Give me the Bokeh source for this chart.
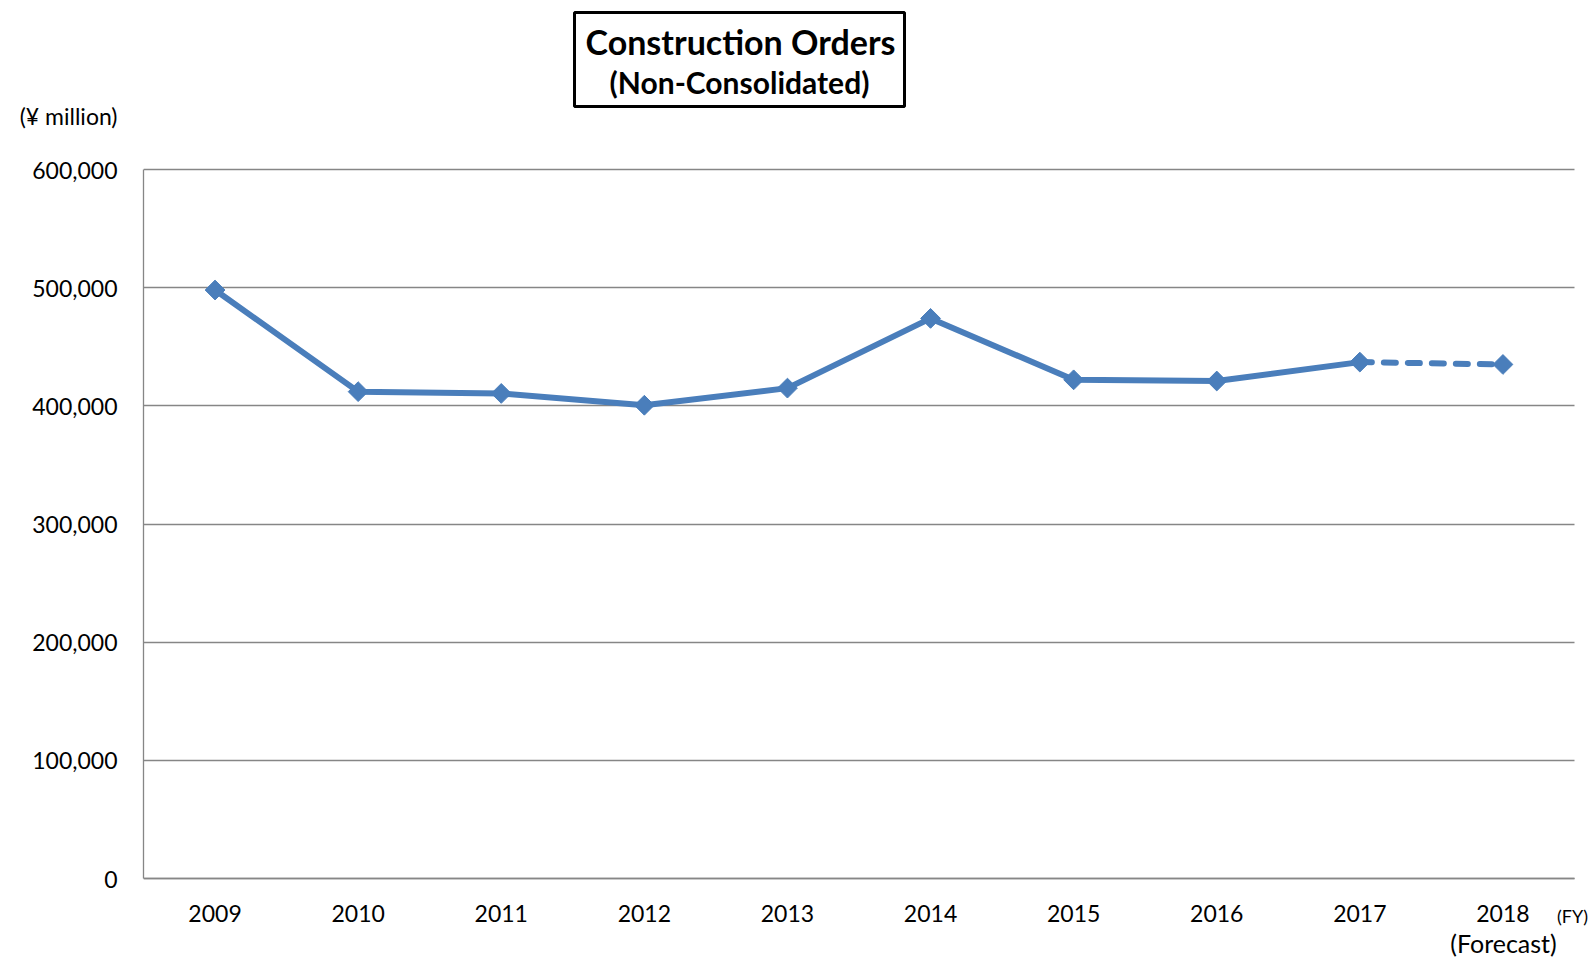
import numpy as np
from bokeh.plotting import figure
from bokeh.models import Range1d, Label, BoxAnnotation, NumeralTickFormatter, FixedTicker, ColumnDataSource
from bokeh.embed import file_html
from bokeh.resources import INLINE

# ---- data ----
years = ["2009", "2010", "2011", "2012", "2013", "2014", "2015", "2016", "2017", "2018"]
orders = [498000, 412000, 410500, 400500, 415000, 474000, 422000, 421000, 437000, 435000]
y_ticks = [0, 100000, 200000, 300000, 400000, 500000, 600000]
unit_label = "(¥ million)"
fy_label = "(FY)"
forecast_label = "(Forecast)"

# ---- layout (pixels on the canvas) ----
W, H = 1592, 958
FRAME_LEFT = 143
AX_LEFT, AX_RIGHT = 143, 1574      # x extent of the plotting area
AX_BOTTOM, AX_TOP = 878, 169       # y of value 0 and of the top value
n = len(years)
y_max = y_ticks[-1]
px_x = (AX_RIGHT - AX_LEFT) / n
px_y = (AX_BOTTOM - AX_TOP) / y_max
x_end = (W - FRAME_LEFT) / px_x
y_start = -(H - AX_BOTTOM) / px_y
y_end = y_max + AX_TOP / px_y
unit_tick = y_max + (AX_TOP - 115) / px_y

def sx(cx):
    return cx - FRAME_LEFT

def sy(cy):
    return H - cy

BLUE = "#4A7EBB"
GRAY = "#868686"
FONT = "Lato"

centers = list(np.arange(n) + 0.5)

p = figure(x_range=Range1d(0, x_end), y_range=Range1d(y_start, y_end),
           width=W, height=H, output_backend="svg", toolbar_location=None,
           min_border_left=FRAME_LEFT, min_border_right=0, min_border_top=0, min_border_bottom=0)

actual = ColumnDataSource(dict(x=centers[:n - 1], y=orders[:n - 1]))
forecast = ColumnDataSource(dict(x=centers[n - 2:], y=orders[n - 2:]))

p.line("x", "y", source=forecast, line_color=BLUE, line_width=6, line_dash="12 12", line_cap="round")
p.line("x", "y", source=actual, line_color=BLUE, line_width=6, line_join="round")
p.scatter(x=centers, y=orders, marker="square", angle=np.pi / 4, size=14,
          fill_color=BLUE, line_color=BLUE)

p.outline_line_color = None
p.background_fill_color = None
p.xgrid.grid_line_color = None
p.ygrid.ticker = FixedTicker(ticks=y_ticks)
p.ygrid.cross_bounds = (0, n)
p.ygrid.grid_line_color = GRAY
p.ygrid.grid_line_width = 1.3

# y axis
p.yaxis.ticker = FixedTicker(ticks=y_ticks + [unit_tick])
p.yaxis.formatter = NumeralTickFormatter(format="0,0")
p.yaxis.major_label_overrides = {unit_tick: unit_label}
p.yaxis.bounds = (0, y_max)
p.yaxis.major_label_standoff = 20

# x axis
p.xaxis.ticker = FixedTicker(ticks=centers)
p.xaxis.major_label_overrides = {c: y for c, y in zip(centers, years)}
p.xaxis.bounds = (0, n)
p.xaxis.fixed_location = 0
p.xaxis.major_label_standoff = 20

for ax in (p.xaxis, p.yaxis):
    ax.axis_line_color = GRAY
    ax.axis_line_width = 1.3
    ax.major_tick_line_color = None
    ax.minor_tick_line_color = None
    ax.major_label_text_font = FONT
    ax.major_label_text_font_size = "23px"
    ax.major_label_text_color = "black"

# title box
p.add_layout(BoxAnnotation(left=sx(574), right=sx(904), top=sy(12), bottom=sy(106),
                           left_units="screen", right_units="screen",
                           bottom_units="screen", top_units="screen",
                           fill_color=None, line_color="black", line_alpha=1.0, line_width=3))
p.add_layout(Label(x=sx(740), y=sy(41), x_units="screen", y_units="screen",
                   text="Construction Orders", text_font=FONT, text_font_style="bold",
                   text_color="black",
                   text_font_size="34px", text_align="center", text_baseline="middle"))
p.add_layout(Label(x=sx(739), y=sy(81), x_units="screen", y_units="screen",
                   text="(Non-Consolidated)", text_font=FONT, text_font_style="bold",
                   text_color="black",
                   text_font_size="30px", text_align="center", text_baseline="middle"))
p.add_layout(Label(x=sx(1572), y=sy(915), x_units="screen", y_units="screen",
                   text=fy_label, text_font=FONT, text_color="black",
                   text_font_size="18px", text_align="center", text_baseline="middle"))
p.add_layout(Label(x=sx(1503), y=sy(942), x_units="screen", y_units="screen",
                   text=forecast_label, text_font=FONT, text_color="black",
                   text_font_size="25px", text_align="center", text_baseline="middle"))

open("out.html", "w").write(file_html(p, INLINE))
